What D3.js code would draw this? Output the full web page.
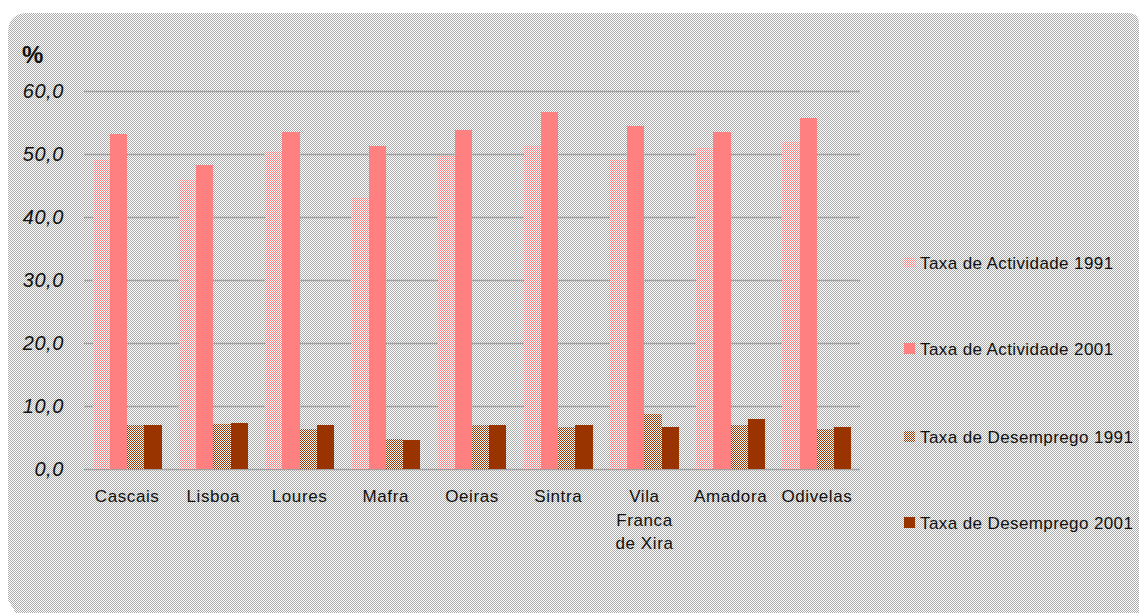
<!DOCTYPE html>
<html>
<head>
<meta charset="utf-8">
<script src="https://cdn.jsdelivr.net/npm/d3@7"></script>
<style>
  html, body { margin: 0; padding: 0; background: #ffffff; }
  svg { display: block; }
</style>
</head>
<body>
<svg id="chart" width="1139" height="615"></svg>
<script>
// ---- Data ----
const categories = ["Cascais", "Lisboa", "Loures", "Mafra", "Oeiras", "Sintra", "Vila Franca de Xira", "Amadora", "Odivelas"];
const seriesNames = ["Taxa de Actividade 1991", "Taxa de Actividade 2001", "Taxa de Desemprego 1991", "Taxa de Desemprego 2001"];
const actividade1991 = [49.0, 45.8, 50.3, 43.1, 49.7, 51.2, 49.0, 50.9, 51.9];
const actividade2001 = [53.1, 48.2, 53.4, 51.2, 53.8, 56.6, 54.4, 53.4, 55.7];
const desemprego1991 = [7.0, 7.2, 6.3, 4.7, 7.0, 6.6, 8.8, 7.0, 6.3];
const desemprego2001 = [7.0, 7.3, 7.0, 4.6, 7.0, 7.0, 6.6, 7.9, 6.6];
const yTicks = [0, 10, 20, 30, 40, 50, 60];
const yLabel = "%";

const seriesValues = [actividade1991, actividade2001, desemprego1991, desemprego2001];
const seriesFill = ["url(#patPink)", "#ff8080", "url(#patBrown)", "#993300"];

const svg = d3.select("#chart");
const defs = svg.append("defs");

// background pattern (fine grey/white checker)
const bg = defs.append("pattern").attr("id", "patBg").attr("width", 4).attr("height", 4)
  .attr("patternUnits", "userSpaceOnUse");
bg.append("rect").attr("width", 4).attr("height", 4).attr("fill", "#ffffff").attr("shape-rendering", "crispEdges");
[[0,0],[2,0],[1,1],[3,1],[0,2],[2,2],[1,3],[3,3]].forEach(([x,y]) => {
  bg.append("rect").attr("x", x).attr("y", y).attr("width", 1).attr("height", 1)
    .attr("fill", "#ababab").attr("shape-rendering", "crispEdges");
});

function checker(id, color, light) {
  const p = defs.append("pattern").attr("id", id).attr("width", 2).attr("height", 2)
    .attr("patternUnits", "userSpaceOnUse");
  p.append("rect").attr("width", 2).attr("height", 2).attr("fill", light).attr("shape-rendering", "crispEdges");
  p.append("rect").attr("x", 0).attr("y", 0).attr("width", 1).attr("height", 1).attr("fill", color).attr("shape-rendering", "crispEdges");
  p.append("rect").attr("x", 1).attr("y", 1).attr("width", 1).attr("height", 1).attr("fill", color).attr("shape-rendering", "crispEdges");
}
checker("patPink", "#ff8080", "#ffffff");
checker("patBrown", "#993300", "#ffffff");

// background panel with rounded top-left corner and cut bottom-left
const panel = "M8,33 Q8,13 28,13 L1128,13 Q1139,13 1139,24 L1139,613 L16,613 L8,600 Z";
svg.append("path").attr("d", panel).attr("fill", "url(#patBg)");

// ---- Scales ----
const plotLeft = 84, plotRight = 860, plotTop = 90.7, plotBottom = 469;
const x0 = d3.scaleBand().domain(categories).range([plotLeft, plotRight]).paddingInner(0.2).paddingOuter(0.1);
const x1 = d3.scaleBand().domain(seriesNames).range([0, x0.bandwidth()]).padding(0);
const y = d3.scaleLinear().domain([0, 60]).range([plotBottom, plotTop]);

// gridlines
svg.append("g").selectAll("line").data(yTicks).join("line")
  .attr("x1", plotLeft).attr("x2", plotRight)
  .attr("y1", d => Math.round(y(d)) + 0.5).attr("y2", d => Math.round(y(d)) + 0.5)
  .attr("stroke", "#a0a0a0").attr("stroke-width", 1.3);

// y tick labels
const fmt = d => d3.format(".1f")(d).replace(".", ",");
svg.append("g").selectAll("text").data(yTicks).join("text")
  .attr("x", 64).attr("y", d => y(d) + 7)
  .attr("text-anchor", "end")
  .attr("font-family", "Liberation Sans, Arial, sans-serif")
  .attr("font-style", "italic")
  .attr("font-size", 20)
  .attr("letter-spacing", 0.6)
  .attr("fill", "#111")
  .text(fmt);

// "%" label
svg.append("text").attr("x", 22).attr("y", 63)
  .attr("font-family", "Liberation Sans, Arial, sans-serif")
  .attr("font-weight", "bold").attr("font-size", 24).attr("fill", "#111")
  .text(yLabel);

// bars (pixel-aligned so the checker patterns stay crisp)
const groups = svg.append("g").attr("shape-rendering", "crispEdges")
  .selectAll("g").data(categories).join("g");
groups.selectAll("rect")
  .data((c, i) => seriesNames.map((s, k) => ({ c, s, k, v: seriesValues[k][i] })))
  .join("rect")
  .attr("x", d => Math.round(x0(d.c) + x1(d.s)))
  .attr("width", d => Math.round(x0(d.c) + x1(d.s) + x1.bandwidth()) - Math.round(x0(d.c) + x1(d.s)))
  .attr("y", d => Math.round(y(d.v)))
  .attr("height", d => Math.round(y(0)) - Math.round(y(d.v)))
  .attr("fill", d => seriesFill[d.k]);

// x labels with wrapping
const labelFont = "Liberation Sans, Arial, sans-serif";
const xl = svg.append("g");
categories.forEach(c => {
  const cx = x0(c) + x0.bandwidth() / 2;
  const t = xl.append("text").attr("x", cx).attr("y", 502)
    .attr("text-anchor", "middle").attr("font-family", labelFont)
    .attr("font-size", 17).attr("letter-spacing", 0.6).attr("fill", "#111");
  const words = c.split(" ");
  let line = [];
  let tspan = t.append("tspan").attr("x", cx).attr("dy", 0);
  words.forEach(w => {
    line.push(w);
    tspan.text(line.join(" "));
    if (tspan.node().getComputedTextLength() > 66 && line.length > 1) {
      line.pop();
      tspan.text(line.join(" "));
      line = [w];
      tspan = t.append("tspan").attr("x", cx).attr("dy", 23.5).text(w);
    }
  });
});

// legend
const legendY = [263, 349, 437, 523];
const lg = svg.append("g");
seriesNames.forEach((s, k) => {
  lg.append("rect").attr("x", 904).attr("y", legendY[k] - 6).attr("width", 11).attr("height", 11)
    .attr("shape-rendering", "crispEdges")
    .attr("fill", seriesFill[k]);
  lg.append("text").attr("x", 920).attr("y", legendY[k] + 6)
    .attr("font-family", labelFont).attr("font-size", 17).attr("letter-spacing", 0.4).attr("fill", "#111")
    .text(s);
});
</script>
</body>
</html>
